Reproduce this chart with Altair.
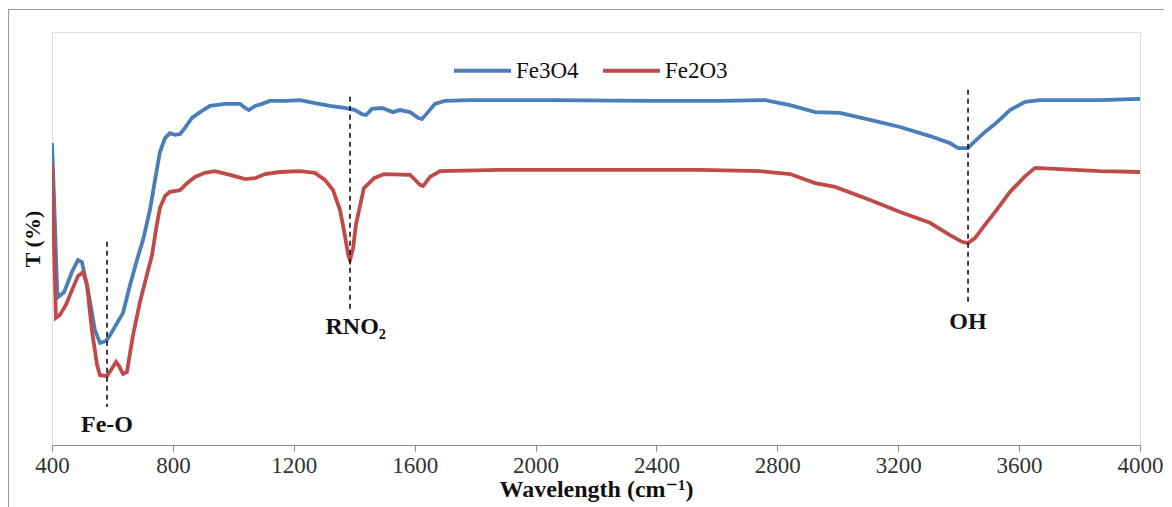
import altair as alt
import pandas as pd

# Wavenumber (cm-1) and transmittance (arbitrary %)
fe3o4_wn = [400, 407, 417, 420, 440, 466, 486, 499, 519, 542, 559, 579, 592, 608, 635, 658, 681, 701,
            724, 741, 757, 774, 790, 807, 824, 840, 863, 890, 923, 972, 1022, 1039, 1052, 1072, 1095,
            1121, 1171, 1221, 1270, 1320, 1369, 1403, 1426, 1439, 1459, 1492, 1528, 1551, 1585, 1611,
            1624, 1644, 1667, 1700, 1783, 2048, 2379, 2610, 2759, 2842, 2925, 3007, 3107, 3206, 3305,
            3371, 3398, 3431, 3454, 3487, 3520, 3570, 3620, 3669, 3768, 3868, 4000]
fe3o4_t = [73.1, 59.3, 37.5, 35.8, 37.0, 41.9, 44.8, 44.3, 37.5, 27.8, 24.7, 25.2, 26.6, 28.6, 32.0,
           38.7, 44.8, 49.6, 56.9, 64.2, 70.9, 74.3, 75.5, 75.1, 75.3, 76.8, 79.2, 80.6, 82.1, 82.6,
           82.6, 81.6, 81.1, 82.1, 82.6, 83.3, 83.3, 83.5, 82.8, 82.1, 81.6, 81.1, 80.1, 79.9, 81.4,
           81.6, 80.6, 81.1, 80.6, 79.2, 78.9, 80.6, 82.6, 83.3, 83.5, 83.5, 83.3, 83.3, 83.5, 82.3,
           80.6, 80.4, 78.7, 77.0, 74.8, 73.1, 71.9, 71.9, 73.6, 75.8, 77.7, 81.1, 83.1, 83.5, 83.5,
           83.5, 83.8]

fe2o3_wn = [400, 407, 413, 426, 446, 466, 486, 503, 516, 532, 549, 559, 582, 599, 612, 622, 635, 648,
            668, 691, 714, 731, 744, 757, 774, 790, 824, 847, 873, 906, 939, 989, 1039, 1072, 1105,
            1154, 1221, 1270, 1303, 1330, 1353, 1369, 1380, 1386, 1396, 1406, 1432, 1466, 1499, 1585,
            1618, 1628, 1651, 1684, 1882, 2213, 2544, 2743, 2842, 2925, 2991, 3107, 3206, 3305, 3371,
            3411, 3431, 3454, 3487, 3520, 3570, 3620, 3653, 3735, 3868, 4000]
fe2o3_t = [67.8, 47.2, 30.8, 31.5, 33.9, 37.5, 40.9, 41.9, 38.7, 27.8, 19.4, 16.9, 16.7, 18.6, 20.1,
           19.1, 17.2, 17.7, 26.6, 34.6, 41.2, 46.0, 52.1, 57.4, 60.3, 61.3, 61.7, 63.4, 64.9, 65.9,
           66.3, 65.4, 64.4, 64.6, 65.6, 66.1, 66.3, 65.9, 64.2, 61.7, 56.9, 50.8, 46.0, 44.8, 47.5,
           53.5, 62.2, 64.6, 65.6, 65.4, 63.0, 62.7, 64.9, 66.3, 66.6, 66.6, 66.6, 66.3, 65.6, 63.4,
           62.5, 59.3, 56.4, 53.8, 50.8, 49.2, 48.9, 50.1, 53.3, 56.4, 61.3, 65.1, 67.1, 66.8, 66.3,
           66.1]

series_names = ["Fe3O4", "Fe2O3"]
series_colors = ["#4A7EBB", "#BE4B48"]

# Band annotations
band_labels = ["Fe-O", "RNO\u2082", "OH"]
band_wn = [582, 1386, 3431]
band_top = [49.2, 84.3, 86.0]
band_bottom = [9.2, 32.2, 33.9]
label_wn = [582, 1405, 3431]
label_t = [4.8, 28.6, 29.8]

x_ticks = [400, 800, 1200, 1600, 2000, 2400, 2800, 3200, 3600, 4000]

df = pd.concat([
    pd.DataFrame({"wn": fe3o4_wn, "T": fe3o4_t, "series": series_names[0]}),
    pd.DataFrame({"wn": fe2o3_wn, "T": fe2o3_t, "series": series_names[1]}),
])
bands = pd.DataFrame({"wn": band_wn, "top": band_top, "bottom": band_bottom})
labels = pd.DataFrame({"wn": label_wn, "T": label_t, "label": band_labels})

FONT = "Liberation Serif, Times New Roman, DejaVu Serif, serif"

x_scale = alt.Scale(domain=[400, 4000], nice=False, zero=False)
y_scale = alt.Scale(domain=[0, 100], nice=False, zero=False)

border = alt.Chart(pd.DataFrame({"a": [0]})).mark_rect(
    fill=None, stroke="#9a9a9a", strokeWidth=1.2, clip=False
).encode(
    x=alt.value(-43.5), x2=alt.value(1300), y=alt.value(-22.5), y2=alt.value(700)
)

lines = alt.Chart(df).mark_line(strokeWidth=3.8, clip=True).encode(
    x=alt.X("wn:Q", scale=x_scale,
            axis=alt.Axis(title="Wavelength  (cm\u207b\u00b9)", values=x_ticks, grid=False,
                          format="d", labelFlush=False,
                          tickColor="#888888", tickSize=6, domainColor="#888888",
                          labelFont=FONT, labelFontSize=23, labelColor="#333333",
                          labelPadding=3, titleFont=FONT, titleFontSize=24,
                          titleFontWeight="bold", titleColor="#111111", titlePadding=0)),
    y=alt.Y("T:Q", scale=y_scale,
            axis=alt.Axis(title="T (%)", labels=False, ticks=False, domain=False, grid=False,
                          titleFont=FONT, titleFontSize=22, titleFontWeight="bold",
                          titleColor="#111111", titlePadding=8)),
    color=alt.Color("series:N",
                    scale=alt.Scale(domain=series_names, range=series_colors),
                    legend=alt.Legend(title=None, orient="none", direction="horizontal",
                                      legendX=400, legendY=8, symbolType="stroke",
                                      symbolSize=3249, symbolStrokeWidth=4,
                                      labelFont=FONT, labelFontSize=23, labelColor="#111111",
                                      labelOffset=3, columnPadding=16)),
    order="wn:Q",
)

rules = alt.Chart(bands).mark_rule(color="#111111", strokeDash=[5, 4], strokeWidth=1.6).encode(
    x="wn:Q", y="top:Q", y2="bottom:Q"
)

texts = alt.Chart(labels).mark_text(font=FONT, fontSize=24, fontWeight="bold",
                                    color="#111111", baseline="middle").encode(
    x="wn:Q", y="T:Q", text="label:N"
)

chart = alt.layer(border, lines, rules, texts).properties(
    width=1088, height=413,
    autosize=alt.AutoSizeParams(type="none"),
    padding={"left": 44, "top": 24, "right": 24, "bottom": 62},
).configure_view(stroke="black", strokeWidth=1.2).configure_legend(
    labelFont=FONT, labelFontSize=23, labelColor="#111111"
).configure(font=FONT)

chart.save("out.html", embed_options={"renderer": "svg", "actions": False})
